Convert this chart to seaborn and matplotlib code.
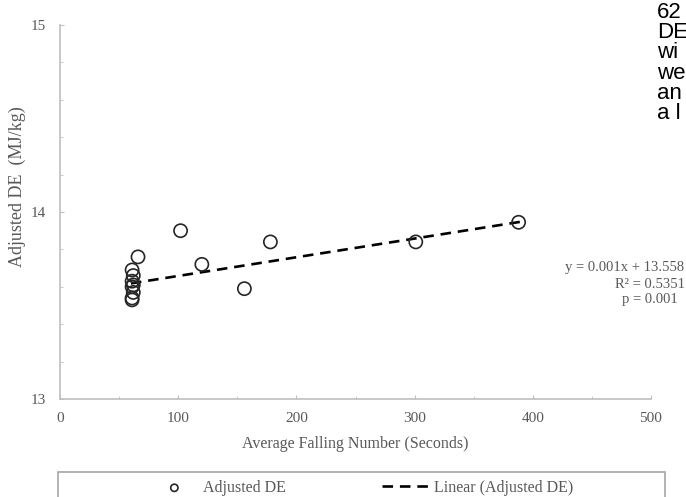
import numpy as np
import pandas as pd
import seaborn as sns
import matplotlib.pyplot as plt
from matplotlib.patches import Rectangle
from matplotlib.ticker import MultipleLocator

### DATA ###
falling_number = [61, 62, 61, 62, 61, 62, 61, 61, 66, 102, 120, 156, 178, 301, 388]
adjusted_de = [13.69, 13.66, 13.63, 13.61, 13.60, 13.57, 13.54, 13.53, 13.76,
               13.90, 13.72, 13.59, 13.84, 13.84, 13.945]

trend_x = [60, 390]
trend_y = [13.618, 13.948]

equation_lines = ["y = 0.001x + 13.558", "R\u00b2 = 0.5351", "p = 0.001"]
side_text = ["62", "DE", "wi", "we", "an", "a l"]

df = pd.DataFrame({"Average Falling Number (Seconds)": falling_number,
                   "Adjusted DE": adjusted_de})
df_trend = pd.DataFrame({"x": trend_x, "y": trend_y})

### PLOT ###
sns.set_style("white")
plt.rcParams["font.family"] = ["Liberation Serif", "DejaVu Serif"]

grey = "#595959"
fig = plt.figure(figsize=(6.86, 4.97), dpi=100)
ax = fig.add_axes([60 / 686, 1 - 399 / 497, 591 / 686, 374 / 497])

sns.scatterplot(data=df, x="Average Falling Number (Seconds)", y="Adjusted DE",
                marker="o", s=90, facecolor="none", edgecolor="#262626",
                linewidth=1.2, ax=ax, label="Adjusted DE", zorder=3)
sns.lineplot(data=df_trend, x="x", y="y", color="black", linewidth=1.9,
             linestyle=(0, (4, 2.6)), ax=ax, label="Linear (Adjusted DE)", zorder=2)

ax.set_xlim(0, 500)
ax.set_ylim(13, 15)
ax.xaxis.set_major_locator(MultipleLocator(100))
ax.xaxis.set_minor_locator(MultipleLocator(50))
ax.yaxis.set_major_locator(MultipleLocator(1))
ax.yaxis.set_minor_locator(MultipleLocator(0.2))
ax.tick_params(which="both", direction="in", colors="#bfbfbf", labelcolor=grey,
               labelsize=11, left=True, bottom=True)
ax.tick_params(which="major", length=3)
ax.tick_params(which="minor", length=2)
ax.tick_params(axis="y", pad=10)
ax.tick_params(axis="x", pad=9)

for side in ["top", "right"]:
    ax.spines[side].set_visible(False)
for side in ["left", "bottom"]:
    ax.spines[side].set_color("#bfbfbf")
    ax.spines[side].set_linewidth(1.2)

ax.set_xlabel("Average Falling Number (Seconds)", color=grey, fontsize=11.5, labelpad=8)
ax.set_ylabel("Adjusted DE  (MJ/kg)", color=grey, fontsize=13)
ax.yaxis.set_label_coords(-0.058, 0.567)

ax.get_legend().remove()
handles, labels = ax.get_legend_handles_labels()
fig.legend(handles, labels, ncol=2, frameon=False, loc="center left",
           bbox_to_anchor=(136 / 686, 1 - 488 / 497), fontsize=11.5,
           labelcolor=grey, markerscale=0.55, handlelength=3.0,
           handletextpad=0.3, columnspacing=6.0)
fig.add_artist(Rectangle((58 / 686, -0.05), 607 / 686, 0.05 + 25 / 497,
                         transform=fig.transFigure, fill=False,
                         edgecolor="#a6a6a6", linewidth=1.2))

# trendline label
fig.text(684 / 686, 1 - 267 / 497, equation_lines[0], ha="right", va="center",
         color=grey, fontsize=10.5)
fig.text(650 / 686, 1 - 284 / 497, equation_lines[1], ha="center", va="center",
         color=grey, fontsize=10.5)
fig.text(650 / 686, 1 - 300 / 497, equation_lines[2], ha="center", va="center",
         color=grey, fontsize=10.5)

# cut-off text from the page beside the chart
fig.text(657 / 686, 1 - 2 / 497, "\n".join(side_text), ha="left", va="top",
         family="Liberation Sans", fontsize=16, color="black", linespacing=0.95)

fig.savefig("out.png", dpi=100)
